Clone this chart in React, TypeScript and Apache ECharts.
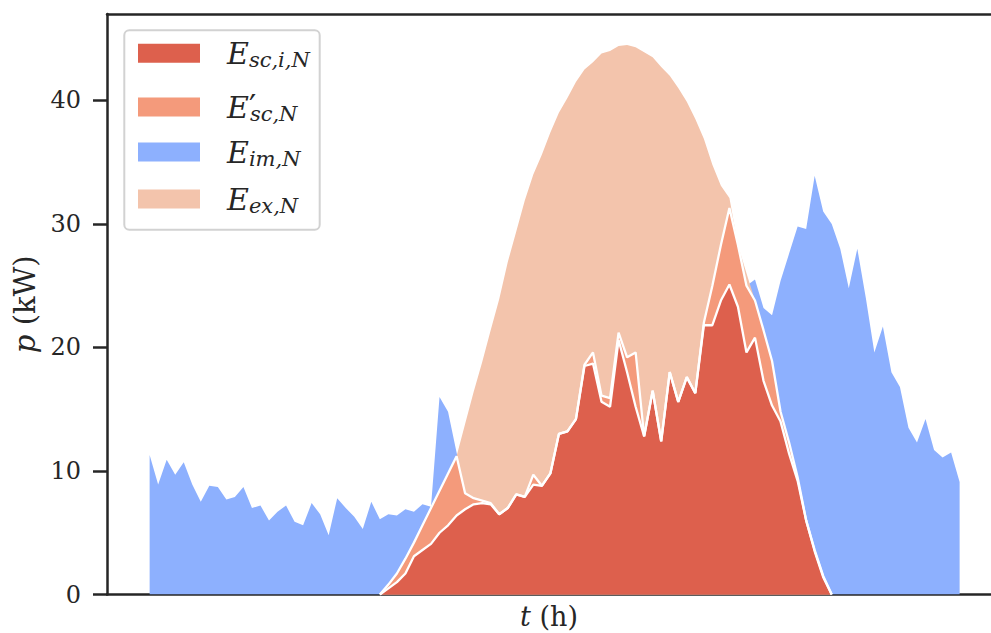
import { useEffect, useRef } from "react";
import * as echarts from "echarts";

// 96 quarter-hour steps, index 0..95
const load = [
  11.3, 8.9, 10.9, 9.7, 10.7, 8.9, 7.5, 8.8, 8.7, 7.7,
  7.9, 8.7, 7.0, 7.2, 6.0, 6.7, 7.2, 5.9, 5.6, 7.4,
  6.5, 4.8, 7.8, 7.0, 6.3, 5.3, 7.5, 6.1, 6.5, 6.4,
  6.9, 6.7, 7.3, 7.1, 16.0, 14.8, 11.5, 8.2, 7.8, 7.6,
  7.4, 6.5, 7.0, 8.1, 7.9, 9.7, 8.8, 9.8, 13.0, 13.2,
  14.2, 18.6, 19.6, 16.1, 15.9, 21.2, 19.2, 19.6, 12.8, 16.5,
  12.4, 18.0, 15.6, 17.6, 16.3, 22.0, 25.0, 28.3, 31.3, 28.4,
  25.0, 25.5, 23.2, 22.6, 25.4, 27.6, 29.8, 29.6, 33.9, 31.0,
  30.0, 28.0, 24.8, 28.0, 24.0, 19.6, 21.7, 18.0, 16.8, 13.5,
  12.3, 14.2, 11.7, 11.1, 11.5, 9.1,
];

// daytime series start at step 27
const dayStart = 27;
const pvExport = [
  0, 0.8, 1.7, 2.9, 4.2, 5.6, 7.0, 8.4, 9.8, 11.2,
  13.8, 16.4, 18.8, 21.4, 23.9, 26.9, 29.4, 31.9, 34.0, 35.6,
  37.4, 39.0, 40.2, 41.5, 42.5, 43.1, 43.8, 44.0, 44.4, 44.5,
  44.3, 43.9, 43.5, 42.7, 42.0, 41.0, 39.9, 38.5, 36.9, 34.8,
  33.1, 32.1, 28.3, 26.0, 23.8, 21.4, 18.9, 14.8, 12.3, 9.5,
  6.0, 3.6, 1.5, 0,
];
const selfCons = [
  0, 0.8, 1.7, 2.9, 4.2, 5.6, 7.0, 8.4, 9.8, 11.2,
  8.2, 7.8, 7.6, 7.4, 6.5, 7.0, 8.1, 7.9, 9.7, 8.8,
  9.8, 13.0, 13.2, 14.2, 18.6, 19.6, 16.1, 15.9, 21.2, 19.2,
  19.6, 12.8, 16.5, 12.4, 18.0, 15.6, 17.6, 16.3, 22.0, 25.0,
  28.3, 31.3, 28.3, 25.0, 23.8, 21.4, 18.9, 14.8, 12.3, 9.5,
  6.0, 3.6, 1.5, 0,
];
const selfConsInd = [
  0, 0.5, 1.0, 1.7, 3.1, 3.6, 4.1, 5.0, 5.6, 6.4,
  6.9, 7.3, 7.4, 7.3, 6.5, 7.0, 8.1, 7.9, 8.9, 8.8,
  9.8, 13.0, 13.2, 14.2, 18.5, 18.7, 15.6, 15.2, 20.6, 18.0,
  15.2, 12.8, 16.5, 12.4, 18.0, 15.6, 17.6, 16.3, 21.8, 21.8,
  23.8, 25.1, 23.3, 19.6, 20.8, 17.3, 15.3, 14.0, 11.4, 9.2,
  6.0, 3.5, 1.4, 0,
];

const yTicks = [0, 10, 20, 30, 40];

const seriesNames = ["E_sc,i,N", "E'_sc,N", "E_im,N", "E_ex,N"];
const legendRich: Record<string, string> = {
  "E_sc,i,N": "{e|E}{s|sc,i,N}",
  "E'_sc,N": "{e|E}{p|\u2032}{s2|sc,N}",
  "E_im,N": "{e|E}{s|im,N}",
  "E_ex,N": "{e|E}{s|ex,N}",
};

const RED = "#DD604D";
const ORANGE = "#F49A7B";
const BLUE = "#8DB0FE";
const PEACH = "#F3C4AC";
const INK = "#262626";
const FONT = "DejaVu Serif";

const toPairs = (vals: number[], start: number) => vals.map((v, i) => [start + i, v]);

export default function App() {
  const ref = useRef<HTMLDivElement>(null);

  useEffect(() => {
    if (!ref.current) return;
    const chart = echarts.init(ref.current, null, { renderer: "svg" });

    const rich = {
      e: { fontFamily: FONT, fontStyle: "italic", fontSize: 30, lineHeight: 34, color: INK, padding: [0, 0, 0, 22] },
      s: { fontFamily: FONT, fontStyle: "italic", fontSize: 21, lineHeight: 21, verticalAlign: "bottom", color: INK },
      s2: { fontFamily: FONT, fontStyle: "italic", fontSize: 21, lineHeight: 14, verticalAlign: "bottom", color: INK },
      p: { fontFamily: FONT, fontSize: 32, lineHeight: 30, verticalAlign: "top", width: 1, color: INK },
    };
    const colors = [RED, ORANGE, BLUE, PEACH];
    const centers = [55.3, 107, 154, 201];
    const legends = seriesNames.map((nm, k) => ({
      data: [{ name: nm, itemStyle: { color: colors[k], borderWidth: 0 } }],
      left: 138,
      top: centers[k] - 17,
      padding: 0,
      icon: "rect",
      itemWidth: 62,
      itemHeight: 19,
      selectedMode: false,
      formatter: (name: string) => legendRich[name],
      textStyle: { color: INK, fontFamily: FONT, rich },
      z: 5,
    }));

    const axisLine = { show: true, onZero: false, lineStyle: { color: INK, width: 2.5 } };

    chart.setOption({
      animation: false,
      backgroundColor: "#ffffff",
      grid: {
        left: 107,
        right: 0,
        top: 14,
        bottom: 38.5,
        containLabel: false,
        outerBoundsMode: "none",
      },
      legend: legends,
      graphic: [
        {
          type: "rect",
          z: 3,
          shape: { x: 124.3, y: 30.3, width: 195.4, height: 199.4, r: 5 },
          style: { fill: "rgba(255,255,255,0.85)", stroke: "#d2d2d2", lineWidth: 2 },
        },
      ],
      xAxis: [
        {
          type: "value",
          min: -5,
          max: 98.68,
          position: "bottom",
          axisLine,
          axisTick: { show: false },
          axisLabel: { show: false },
          splitLine: { show: false },
          name: "{i|t} (h)",
          nameLocation: "middle",
          nameGap: 8,
          nameTextStyle: {
            fontFamily: FONT,
            fontSize: 27,
            color: INK,
            rich: { i: { fontFamily: FONT, fontSize: 27, fontStyle: "italic", color: INK } },
          },
        },
        {
          type: "value",
          min: -5,
          max: 98.68,
          position: "top",
          axisLine,
          axisTick: { show: false },
          axisLabel: { show: false },
          splitLine: { show: false },
        },
      ],
      yAxis: {
        type: "value",
        min: 0,
        max: 47,
        position: "left",
        axisLine,
        axisTick: {
          show: true,
          inside: false,
          length: 14,
          lineStyle: { color: INK, width: 2.5 },
          customValues: yTicks,
        },
        axisLabel: {
          customValues: yTicks,
          fontFamily: FONT,
          fontSize: 24,
          color: INK,
          margin: 26,
        },
        splitLine: { show: false },
        name: "{i|p} (kW)",
        nameLocation: "middle",
        nameGap: 62,
        nameRotate: 90,
        nameTextStyle: {
          fontFamily: FONT,
          fontSize: 29,
          color: INK,
          rich: { i: { fontFamily: FONT, fontSize: 29, fontStyle: "italic", color: INK } },
        },
      },
      series: [
        {
          name: "E_im,N",
          type: "line",
          data: toPairs(load, 0),
          symbol: "none",
          showSymbol: false,
          silent: true,
          emphasis: { disabled: true },
          itemStyle: { color: BLUE },
          lineStyle: { width: 0, color: BLUE, opacity: 0 },
          areaStyle: { color: BLUE, opacity: 1 },
          z: 2,
        },
        {
          name: "E_ex,N",
          type: "line",
          data: toPairs(pvExport, dayStart),
          symbol: "none",
          showSymbol: false,
          silent: true,
          emphasis: { disabled: true },
          itemStyle: { color: PEACH },
          lineStyle: { width: 0, color: PEACH, opacity: 0 },
          areaStyle: { color: PEACH, opacity: 1 },
          z: 2,
        },
        {
          name: "E'_sc,N",
          type: "line",
          data: toPairs(selfCons, dayStart),
          symbol: "none",
          showSymbol: false,
          silent: true,
          emphasis: { disabled: true },
          itemStyle: { color: ORANGE },
          lineStyle: { width: 2.3, color: "#ffffff" },
          areaStyle: { color: ORANGE, opacity: 1 },
          z: 2,
        },
        {
          name: "E_sc,i,N",
          type: "line",
          data: toPairs(selfConsInd, dayStart),
          symbol: "none",
          showSymbol: false,
          silent: true,
          emphasis: { disabled: true },
          itemStyle: { color: RED },
          lineStyle: { width: 2.3, color: "#ffffff" },
          areaStyle: { color: RED, opacity: 1 },
          z: 2,
        },
      ],
    });

    return () => chart.dispose();
  }, []);

  return (
    <div
      ref={ref}
      style={{ position: "fixed", left: 0, top: 0, width: "991px", height: "633px", background: "#fff" }}
    />
  );
}
